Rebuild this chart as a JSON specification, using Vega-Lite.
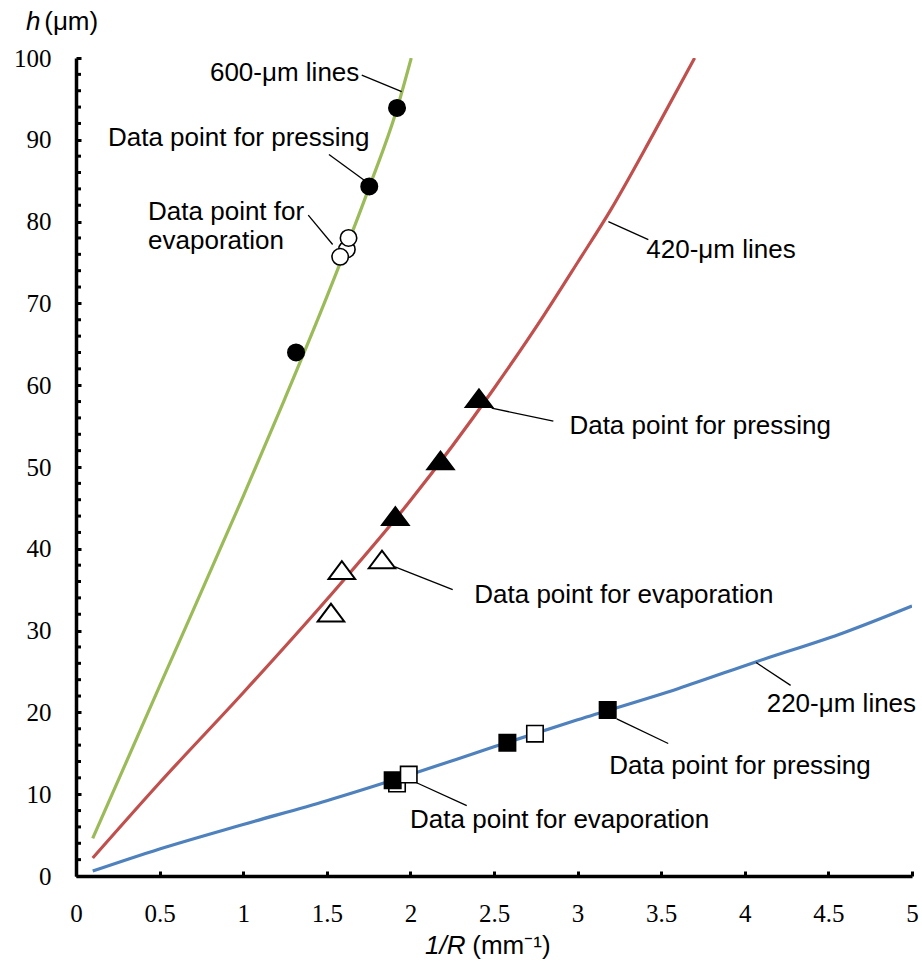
{
  "$schema": "https://vega.github.io/schema/vega-lite/v6.json",
  "width": 836,
  "height": 818,
  "autosize": {"type": "none"},
  "padding": {"left": 76, "top": 58, "right": 10, "bottom": 97},
  "background": "white",
  "config": {"view": {"stroke": null}, "font": "Liberation Sans"},
  "datasets": {
    "lines": [
      {"series": "g", "x": 0.1, "y": 4.6}, {"series": "g", "x": 0.5, "y": 23.2}, {"series": "g", "x": 1.0, "y": 46.4}, {"series": "g", "x": 1.25, "y": 58.4}, {"series": "g", "x": 1.5, "y": 70.8}, {"series": "g", "x": 1.75, "y": 84.0}, {"series": "g", "x": 1.92, "y": 93.8}, {"series": "g", "x": 2.005, "y": 100},
      {"series": "r", "x": 0.1, "y": 2.2}, {"series": "r", "x": 0.5, "y": 11.4}, {"series": "r", "x": 1.0, "y": 22.4}, {"series": "r", "x": 1.5, "y": 33.8}, {"series": "r", "x": 2.0, "y": 45.9}, {"series": "r", "x": 2.5, "y": 59.6}, {"series": "r", "x": 2.8, "y": 68.6}, {"series": "r", "x": 3.0, "y": 75.0}, {"series": "r", "x": 3.2, "y": 81.5}, {"series": "r", "x": 3.45, "y": 90.6}, {"series": "r", "x": 3.7, "y": 100},
      {"series": "b", "x": 0.1, "y": 0.6}, {"series": "b", "x": 0.5, "y": 3.3}, {"series": "b", "x": 1.0, "y": 6.3}, {"series": "b", "x": 1.5, "y": 9.2}, {"series": "b", "x": 2.0, "y": 12.4}, {"series": "b", "x": 2.5, "y": 15.8}, {"series": "b", "x": 3.0, "y": 19.1}, {"series": "b", "x": 3.6, "y": 22.9}, {"series": "b", "x": 4.07, "y": 26.2}, {"series": "b", "x": 4.6, "y": 29.8}, {"series": "b", "x": 5.0, "y": 33.0}
    ],
    "points": [
      {"kind": "c", "fill": "p", "x": 1.316, "y": 64.0},
      {"kind": "c", "fill": "p", "x": 1.754, "y": 84.3},
      {"kind": "c", "fill": "p", "x": 1.92, "y": 93.9},
      {"kind": "c", "fill": "e", "x": 1.62, "y": 76.6},
      {"kind": "c", "fill": "e", "x": 1.63, "y": 78.0},
      {"kind": "c", "fill": "e", "x": 1.58, "y": 75.7},
      {"kind": "t", "fill": "p", "x": 1.91, "y": 44.0},
      {"kind": "t", "fill": "p", "x": 2.18, "y": 50.8},
      {"kind": "t", "fill": "p", "x": 2.41, "y": 58.4},
      {"kind": "t", "fill": "e", "x": 1.525, "y": 32.2},
      {"kind": "t", "fill": "e", "x": 1.59, "y": 37.4},
      {"kind": "t", "fill": "e", "x": 1.83, "y": 38.7},
      {"kind": "s", "fill": "e", "x": 1.92, "y": 11.3},
      {"kind": "s", "fill": "p", "x": 1.894, "y": 11.7},
      {"kind": "s", "fill": "e", "x": 1.99, "y": 12.4},
      {"kind": "s", "fill": "p", "x": 2.58, "y": 16.3},
      {"kind": "s", "fill": "e", "x": 2.745, "y": 17.4},
      {"kind": "s", "fill": "p", "x": 3.18, "y": 20.3}
    ],
    "minor": [
      {"y": 2}, {"y": 4}, {"y": 6}, {"y": 8}, {"y": 12}, {"y": 14}, {"y": 16}, {"y": 18}, {"y": 22}, {"y": 24}, {"y": 26}, {"y": 28}, {"y": 32}, {"y": 34}, {"y": 36}, {"y": 38}, {"y": 42}, {"y": 44}, {"y": 46}, {"y": 48}, {"y": 52}, {"y": 54}, {"y": 56}, {"y": 58}, {"y": 62}, {"y": 64}, {"y": 66}, {"y": 68}, {"y": 72}, {"y": 74}, {"y": 76}, {"y": 78}, {"y": 82}, {"y": 84}, {"y": 86}, {"y": 88}, {"y": 92}, {"y": 94}, {"y": 96}, {"y": 98}
    ],
    "leaders": [
      {"x": 1.709, "y": 97.9, "x2": 1.948, "y2": 95.9},
      {"x": 1.513, "y": 88.2, "x2": 1.728, "y2": 85.0},
      {"x": 1.389, "y": 80.8, "x2": 1.535, "y2": 77.2},
      {"x": 3.184, "y": 80.0, "x2": 3.423, "y2": 77.8},
      {"x": 2.486, "y": 57.2, "x2": 2.855, "y2": 55.6},
      {"x": 1.908, "y": 37.8, "x2": 2.253, "y2": 35.0},
      {"x": 4.067, "y": 26.1, "x2": 4.274, "y2": 23.3},
      {"x": 3.234, "y": 19.2, "x2": 3.542, "y2": 16.2},
      {"x": 2.037, "y": 11.4, "x2": 2.337, "y2": 8.6}
    ],
    "labels": [
      {"x": 0.801, "y": 98.2, "text": "600-μm lines"},
      {"x": 0.191, "y": 90.2, "text": "Data point for pressing"},
      {"x": 0.431, "y": 81.2, "text": "Data point for"},
      {"x": 0.431, "y": 77.6, "text": "evaporation"},
      {"x": 3.411, "y": 76.5, "text": "420-μm lines"},
      {"x": 2.951, "y": 55.0, "text": "Data point for pressing"},
      {"x": 2.382, "y": 34.4, "text": "Data point for evaporation"},
      {"x": 4.131, "y": 21.0, "text": "220-μm lines"},
      {"x": 3.189, "y": 13.5, "text": "Data point for pressing"},
      {"x": 1.998, "y": 6.9, "text": "Data point for evaporation"}
    ],
    "titlesItalic": [
      {"x": -0.299, "y": 104.4, "text": "h"},
      {"x": 2.087, "y": -8.5, "text": "1/R"}
    ],
    "titlesPlain": [
      {"x": -0.19, "y": 104.4, "text": "(μm)"},
      {"x": 2.37, "y": -8.5, "text": "(mm⁻¹)"}
    ]
  },
  "layer": [
    {
      "data": {"name": "lines"},
      "mark": {"type": "line", "strokeWidth": 3.2, "clip": true, "interpolate": "monotone"},
      "encoding": {
        "x": {
          "field": "x", "type": "quantitative",
          "scale": {"domain": [0, 5], "nice": false, "zero": false},
          "axis": {
            "values": [0, 0.5, 1, 1.5, 2, 2.5, 3, 3.5, 4, 4.5, 5],
            "format": "~g", "title": null, "grid": false,
            "domainColor": "black", "domainWidth": 3.5,
            "tickColor": "black", "tickSize": -5, "tickWidth": 3,
            "labelFont": "Liberation Serif", "labelFontSize": 25, "labelColor": "black",
            "labelPadding": 30, "labelFlush": false, "labelOverlap": false, "labelBound": false
          }
        },
        "y": {
          "field": "y", "type": "quantitative",
          "scale": {"domain": [0, 100], "nice": false},
          "axis": {
            "values": [0, 10, 20, 30, 40, 50, 60, 70, 80, 90, 100],
            "format": "d",
            "title": null, "grid": false,
            "domainColor": "black", "domainWidth": 3.5,
            "tickColor": "black", "tickSize": -5, "tickWidth": 3,
            "labelFont": "Liberation Serif", "labelFontSize": 25, "labelColor": "black",
            "labelPadding": 30, "labelFlush": false, "labelOverlap": false, "labelBound": false
          }
        },
        "color": {
          "field": "series", "type": "nominal",
          "scale": {"domain": ["g", "r", "b"], "range": ["#9BBB59", "#C0504D", "#4F81BD"]},
          "legend": null
        }
      }
    },
    {
      "data": {"name": "minor"},
      "mark": {"type": "rule", "color": "black", "strokeWidth": 3},
      "encoding": {
        "x": {"datum": 0, "type": "quantitative"},
        "x2": {"datum": 0.03},
        "y": {"field": "y", "type": "quantitative"}
      }
    },
    {
      "data": {"name": "leaders"},
      "mark": {"type": "rule", "color": "black", "strokeWidth": 1.3},
      "encoding": {
        "x": {"field": "x", "type": "quantitative"},
        "y": {"field": "y", "type": "quantitative"},
        "x2": {"field": "x2"},
        "y2": {"field": "y2"}
      }
    },
    {
      "data": {"name": "points"},
      "transform": [{"filter": "datum.kind === 'c'"}],
      "mark": {"type": "point", "shape": "circle", "size": 270, "filled": true, "stroke": "black", "strokeWidth": 1.6, "opacity": 1},
      "encoding": {
        "x": {"field": "x", "type": "quantitative"},
        "y": {"field": "y", "type": "quantitative"},
        "fill": {
          "field": "fill", "type": "nominal",
          "scale": {"domain": ["p", "e"], "range": ["black", "white"]},
          "legend": null
        }
      }
    },
    {
      "data": {"name": "points"},
      "transform": [{"filter": "datum.kind === 't'"}],
      "mark": {"type": "point", "shape": "M-1,0.667L0,-0.667L1,0.667Z", "size": 700, "filled": true, "stroke": "black", "strokeWidth": 2, "opacity": 1},
      "encoding": {
        "x": {"field": "x", "type": "quantitative"},
        "y": {"field": "y", "type": "quantitative"},
        "fill": {
          "field": "fill", "type": "nominal",
          "scale": {"domain": ["p", "e"], "range": ["black", "white"]},
          "legend": null
        }
      }
    },
    {
      "data": {"name": "points"},
      "transform": [{"filter": "datum.kind === 's'"}],
      "mark": {"type": "point", "shape": "square", "size": 270, "filled": true, "stroke": "black", "strokeWidth": 1.6, "opacity": 1},
      "encoding": {
        "x": {"field": "x", "type": "quantitative"},
        "y": {"field": "y", "type": "quantitative"},
        "fill": {
          "field": "fill", "type": "nominal",
          "scale": {"domain": ["p", "e"], "range": ["black", "white"]},
          "legend": null
        }
      }
    },
    {
      "data": {"name": "labels"},
      "mark": {"type": "text", "align": "left", "baseline": "middle", "font": "Liberation Sans", "fontSize": 26, "color": "black"},
      "encoding": {
        "x": {"field": "x", "type": "quantitative"},
        "y": {"field": "y", "type": "quantitative"},
        "text": {"field": "text"}
      }
    },
    {
      "data": {"name": "titlesItalic"},
      "mark": {"type": "text", "align": "left", "baseline": "middle", "font": "Liberation Sans", "fontSize": 26, "fontStyle": "italic", "color": "black"},
      "encoding": {
        "x": {"field": "x", "type": "quantitative"},
        "y": {"field": "y", "type": "quantitative"},
        "text": {"field": "text"}
      }
    },
    {
      "data": {"name": "titlesPlain"},
      "mark": {"type": "text", "align": "left", "baseline": "middle", "font": "Liberation Sans", "fontSize": 26, "color": "black"},
      "encoding": {
        "x": {"field": "x", "type": "quantitative"},
        "y": {"field": "y", "type": "quantitative"},
        "text": {"field": "text"}
      }
    }
  ]
}
